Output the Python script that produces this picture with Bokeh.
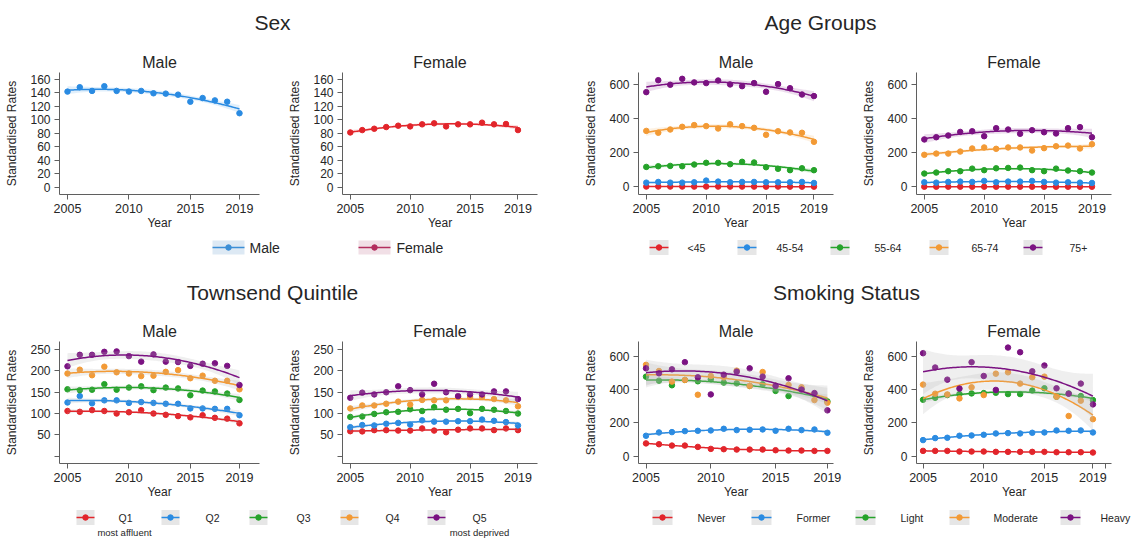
import numpy as np
from bokeh.plotting import figure
from bokeh.layouts import row, column
from bokeh.models import Range1d, FixedTicker
from bokeh.embed import file_html
from bokeh.resources import INLINE
from bokeh.core.properties import value

# ---------------- data ----------------
years = [2005, 2006, 2007, 2008, 2009, 2010, 2011, 2012, 2013, 2014, 2015, 2016, 2017, 2018, 2019]

sex_male = [142, 148.5, 143, 150, 143, 142, 143, 139.5, 139, 137.5, 127, 132.5, 129, 127, 110]
sex_female = [81.5, 85, 87, 89.5, 91.5, 90.5, 93.5, 95, 90.5, 93.5, 93.5, 96, 93.5, 94, 85]

age_labels = ["<45", "45-54", "55-64", "65-74", "75+"]
age_male_lt45 = [2.1, 2.0, 1.9, 2.0, 1.8, 1.9, 1.8, 1.7, 1.8, 1.7, 1.6, 1.7, 1.6, 1.5, 1.5]
age_male_45_54 = [25, 29, 25, 25, 27, 37, 31, 27, 29, 29, 27, 27, 27, 29, 23]
age_male_55_64 = [117, 121, 123, 121, 131, 141, 141, 133, 147, 143, 115, 106, 98, 109, 98]
age_male_65_74 = [328, 317, 336, 352, 362, 356, 342, 367, 356, 346, 305, 326, 319, 317, 264]
age_male_75 = [555, 625, 598, 633, 612, 608, 623, 600, 590, 608, 557, 602, 578, 541, 532]
age_female_lt45 = [1.2, 1.2, 1.1, 1.2, 1.1, 1.2, 1.1, 1.1, 1.0, 1.1, 1.0, 1.0, 1.0, 0.9, 0.9]
age_female_45_54 = [27, 25, 29, 31, 29, 35, 27, 31, 31, 35, 29, 25, 27, 25, 23]
age_female_55_64 = [78, 84, 92, 92, 107, 98, 109, 111, 113, 98, 92, 107, 96, 92, 84]
age_female_65_74 = [188, 195, 195, 207, 225, 231, 223, 231, 231, 213, 227, 238, 242, 225, 250]
age_female_75 = [278, 291, 301, 322, 326, 297, 344, 336, 311, 332, 320, 313, 344, 350, 291]

town_labels = ["Q1", "Q2", "Q3", "Q4", "Q5"]
town_male_q1 = [106, 104, 108, 106, 100, 103, 108, 100, 97, 94, 91, 96, 90, 88, 77]
town_male_q2 = [126, 141, 124, 131, 131, 125, 127, 125, 123, 123, 112, 112, 111, 111, 96]
town_male_q3 = [157, 155, 156, 169, 156, 161, 164, 155, 161, 159, 143, 154, 152, 147, 132]
town_male_q4 = [194, 203, 190, 210, 197, 194, 188, 189, 198, 202, 183, 189, 177, 177, 157]
town_male_q5 = [211, 238, 238, 245, 246, 235, 222, 239, 222, 221, 212, 217, 218, 212, 167]
town_female_q1 = [58.5, 58, 61, 61, 60, 60, 65, 60, 56, 62, 65, 65, 61, 65, 61]
town_female_q2 = [68, 73, 72, 76, 78, 74, 84, 81, 81, 82, 82, 86, 83, 80, 72]
town_female_q3 = [92, 93, 99, 103, 104, 110, 106, 115, 109, 111, 101, 111, 109, 106, 100]
town_female_q4 = [112, 119, 119, 123, 128, 121, 132, 131, 131, 139, 139, 139, 134, 131, 117]
town_female_q5 = [137, 149, 145, 150, 164, 155, 145, 170, 150, 141, 145, 145, 152, 152, 134]
town_sub_labels = ["most affluent", "most deprived"]

smoke_labels = ["Never", "Former", "Light", "Moderate", "Heavy"]
smoke_male_never = [77, 72, 64, 64, 56, 44, 42, 40, 40, 40, 36, 34, 34, 32, 32]
smoke_male_former = [123, 143, 145, 151, 153, 155, 165, 157, 159, 161, 153, 165, 157, 161, 141]
smoke_male_light = [479, 455, 427, 459, 451, 463, 443, 439, 423, 433, 393, 362, 405, 372, 330]
smoke_male_moderate = [550, 513, 449, 459, 370, 483, 475, 515, 423, 507, 425, 429, 415, 338, 322]
smoke_male_heavy = [529, 499, 523, 566, 475, 372, 491, 509, 529, 479, 423, 469, 401, 380, 276]
smoke_female_never = [32, 32, 32, 28, 28, 28, 26, 26, 26, 26, 26, 24, 24, 24, 22]
smoke_female_former = [97, 109, 111, 123, 125, 129, 137, 139, 137, 141, 143, 155, 153, 155, 143]
smoke_female_light = [340, 352, 368, 374, 378, 380, 382, 374, 374, 395, 409, 358, 378, 362, 338]
smoke_female_moderate = [431, 376, 372, 348, 415, 368, 497, 505, 437, 475, 479, 358, 242, 334, 223]
smoke_female_heavy = [620, 534, 461, 407, 566, 483, 399, 654, 626, 511, 546, 409, 376, 437, 312]

# ---------------- style ----------------
FONT = "Liberation Sans"
TXT = "#262626"
AX = "#5f5f5f"
RED, BLUE, GREEN, ORANGE, PURPLE = "#e2252b", "#2a8be2", "#25a32a", "#f39a35", "#7b1282"
PAL5 = [RED, BLUE, GREEN, ORANGE, PURPLE]
T975 = 2.179  # t quantile, 12 df


def qfit(x, y, xs):
    x = np.asarray(x, float)
    y = np.asarray(y, float)
    m = x.mean()
    X = np.column_stack([np.ones_like(x), x - m, (x - m) ** 2])
    beta = np.linalg.lstsq(X, y, rcond=None)[0]
    res = y - X @ beta
    s2 = res @ res / (len(y) - 3)
    inv = np.linalg.inv(X.T @ X)
    Xs = np.column_stack([np.ones_like(xs), xs - m, (xs - m) ** 2])
    yh = Xs @ beta
    se = np.sqrt(s2 * np.einsum("ij,jk,ik->i", Xs, inv, Xs))
    return yh, yh - T975 * se, yh + T975 * se


XS = np.linspace(years[0], years[-1], 120)
STD_XR = (2004.35, 2020.63)
STD_XT = [2005, 2010, 2015, 2019]
PANEL_H = 191


def panel(title, series, colors, yr, yt, width, left, xr=STD_XR, xt=STD_XT,
          band="grey", y_over=None, x_over=None):
    p = figure(width=width, height=PANEL_H, x_range=Range1d(*xr), y_range=Range1d(*yr),
               output_backend="svg", toolbar_location=None, title=title,
               min_border_left=left, min_border_right=width - left - 200,
               min_border_top=30, min_border_bottom=PANEL_H - 30 - 122)
    p.title.align = "center"
    p.title.text_font = FONT
    p.title.text_font_size = "16px"
    p.title.text_font_style = "normal"
    p.title.text_color = TXT
    p.title.standoff = 3
    p.outline_line_color = None
    p.xgrid.visible = False
    p.ygrid.visible = False
    p.xaxis.ticker = FixedTicker(ticks=xt)
    p.yaxis.ticker = FixedTicker(ticks=yt)
    if y_over:
        p.yaxis.major_label_overrides = y_over
    if x_over:
        p.xaxis.major_label_overrides = x_over
    p.xaxis.axis_label = "Year"
    p.yaxis.axis_label = "Standardised Rates"
    for ax in (p.xaxis, p.yaxis):
        ax.axis_line_color = AX
        ax.major_tick_line_color = AX
        ax.minor_tick_line_color = None
        ax.major_tick_out = 5
        ax.major_tick_in = 0
        ax.major_label_text_font = FONT
        ax.major_label_text_color = TXT
        ax.axis_label_text_font = FONT
        ax.axis_label_text_font_size = "12px"
        ax.axis_label_text_font_style = "normal"
        ax.axis_label_text_color = TXT
        ax.major_label_standoff = 4
    p.xaxis.major_label_text_font_size = "12.5px"
    p.yaxis.major_label_text_font_size = "12px"
    p.xaxis.axis_label_standoff = 0
    p.yaxis.axis_label_standoff = 8
    for ys, c in zip(series, colors):
        yh, lo, hi = qfit(years, ys, XS)
        p.scatter(years, ys, size=5.5, color=c)
        if band == "grey":
            p.varea(x=XS, y1=lo, y2=hi, fill_color="#b4b4b4", fill_alpha=0.22)
        else:
            p.varea(x=XS, y1=lo, y2=hi, fill_color=c, fill_alpha=0.14)
        p.line(XS, yh, line_color=c, line_width=1.5)
    return p


def blank(width, height):
    p = figure(width=width, height=height, x_range=Range1d(0, width), y_range=Range1d(height, 0),
               output_backend="svg", toolbar_location=None, min_border=0,
               x_axis_location=None, y_axis_location=None)
    p.xgrid.visible = False
    p.ygrid.visible = False
    p.outline_line_color = None
    return p


def title_fig(width, height, text, cx, cy):
    p = blank(width, height)
    p.text(x=[cx], y=[cy], text=[text], text_align="center", text_baseline="middle",
           text_font=value(FONT), text_font_size=value("21px"), text_color=TXT)
    return p


def legend_fig(width, height, labels, sw_x, lab_x, cy, colors, bgs, sw_w, sw_h, fsize,
               subs=None):
    p = blank(width, height)
    for lab, sx, lx, c, bg in zip(labels, sw_x, lab_x, colors, bgs):
        p.quad(left=[sx], right=[sx + sw_w], top=[cy - sw_h / 2], bottom=[cy + sw_h / 2],
               fill_color=bg, line_color=None)
        p.segment(x0=[sx], y0=[cy], x1=[sx + sw_w], y1=[cy], line_color=c, line_width=1.5)
        p.scatter(x=[sx + sw_w / 2], y=[cy], size=5.5, color=c)
        p.text(x=[lx], y=[cy], text=[lab], text_align="left", text_baseline="middle",
               text_font=value(FONT), text_font_size=value(fsize), text_color=TXT)
    if subs:
        for txt, x, y in subs:
            p.text(x=[x], y=[y], text=[txt], text_align="center", text_baseline="middle",
                   text_font=value(FONT), text_font_size=value("9.5px"), text_color=TXT)
    return p


# widths (page is drawn from the top-left corner)
WL1, WL2, WR1, WR2 = 285, 296, 278, 277
WL = WL1 + WL2
WR = WR1 + WR2
OXL, OXR = 0, WL  # screen x offsets for left / right quadrants

# vertical: top quadrant 0..262, bottom quadrant 262..538
TT_H, TL_H = 42, 29
BT_H, BL_H = 49, 36

# ---- Sex ----
p_sex_m = panel("Male", [sex_male], [BLUE], (-10.4, 170.3), list(range(0, 161, 20)), WL1, 59, band="color")
p_sex_f = panel("Female", [sex_female], [RED], (-10.4, 170.3), list(range(0, 161, 20)), WL2, 52, band="color")
t_sex = title_fig(WL, TT_H, "Sex", 272 - OXL, 22)
l_sex = legend_fig(WL, TL_H, ["Male", "Female"], [212 - OXL, 358 - OXL], [249 - OXL, 396 - OXL], 14,
                   ["#3d8fd6", "#b32d5e"], ["#dde9f4", "#f1dfe6"], 32, 14, "14px")

# ---- Age groups ----
age_m = [age_male_lt45, age_male_45_54, age_male_55_64, age_male_65_74, age_male_75]
age_f = [age_female_lt45, age_female_45_54, age_female_55_64, age_female_65_74, age_female_75]
p_age_m = panel("Male", age_m, PAL5, (-44.5, 670), [0, 200, 400, 600], WR1, 52, band="color")
p_age_f = panel("Female", age_f, PAL5, (-44.5, 670), [0, 200, 400, 600], WR2, 52, band="color")
t_age = title_fig(WR, TT_H, "Age Groups", 820 - OXR, 22)
l_age = legend_fig(WR, TL_H, age_labels, [s - OXR for s in [649, 737, 830, 929, 1023]],
                   [s - OXR for s in [687, 776, 874, 971, 1069]], 14, PAL5, ["#e6e6e6"] * 5,
                   19, 15, "10.5px")

# ---- Townsend ----
tm = [town_male_q1, town_male_q2, town_male_q3, town_male_q4, town_male_q5]
tf = [town_female_q1, town_female_q2, town_female_q3, town_female_q4, town_female_q5]
p_town_m = panel("Male", tm, PAL5, (-17.4, 269.3), [0, 50, 100, 150, 200, 250], WL1, 59, y_over={0: ""})
p_town_f = panel("Female", tf, PAL5, (-17.4, 269.3), [0, 50, 100, 150, 200, 250], WL2, 52, y_over={0: ""})
t_town = title_fig(WL, BT_H, "Townsend Quintile", 272 - OXL, 30)
l_town = legend_fig(WL, BL_H, town_labels, [s - OXL for s in [76, 161, 249, 340, 427]],
                    [s - OXL for s in [118, 205, 296, 385, 472]], 15, PAL5, ["#e6e6e6"] * 5,
                    18, 15, "10.5px",
                    subs=[(town_sub_labels[0], 124 - OXL, 30), (town_sub_labels[1], 479 - OXL, 30)])

# ---- Smoking ----
sm = [smoke_male_never, smoke_male_former, smoke_male_light, smoke_male_moderate, smoke_male_heavy]
sf = [smoke_female_never, smoke_female_former, smoke_female_light, smoke_female_moderate, smoke_female_heavy]
p_smk_m = panel("Male", sm, PAL5, (-44, 690.6), [0, 200, 400, 600], WR1, 52, xr=(2004.42, 2019.47))
p_smk_f = panel("Female", sf, PAL5, (-44, 690.6), [0, 200, 400, 600], WR2, 52, xr=(2004.46, 2020.53),
                xt=[2005, 2010, 2015, 2019, 2020], x_over={2020: ""})
t_smk = title_fig(WR, BT_H, "Smoking Status", 846 - OXR, 30)
l_smk = legend_fig(WR, BL_H, smoke_labels, [s - OXR for s in [652, 751, 855, 949, 1060]],
                   [s - OXR for s in [697, 796, 900, 993, 1100]], 15, PAL5, ["#e6e6e6"] * 5,
                   20, 15, "10.5px")

top = row(column(t_sex, row(p_sex_m, p_sex_f), l_sex), column(t_age, row(p_age_m, p_age_f), l_age))
bottom = row(column(t_town, row(p_town_m, p_town_f), l_town), column(t_smk, row(p_smk_m, p_smk_f), l_smk))
layout = column(top, bottom)

open("out.html", "w").write(file_html(layout, INLINE))
